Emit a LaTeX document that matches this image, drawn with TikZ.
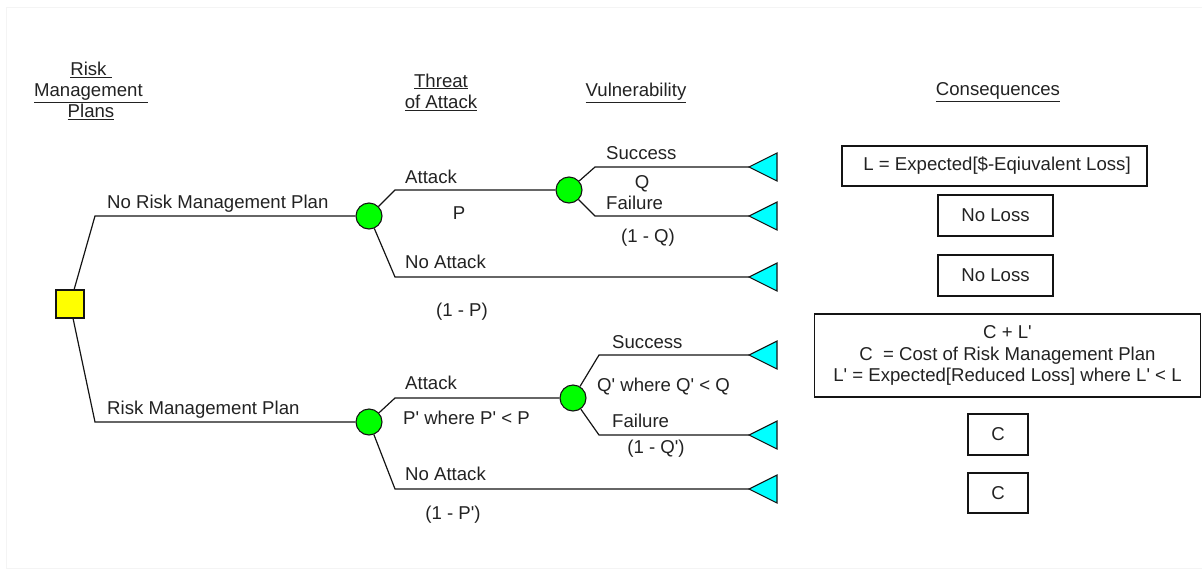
\documentclass[tikz,border=0pt]{standalone}
\usepackage{fontspec}
\setmainfont{Liberation Sans}[Ligatures=TeXOff]
\definecolor{txt}{RGB}{34,34,34}
\definecolor{edge}{RGB}{20,20,20}
\definecolor{chgreen}{RGB}{0,255,0}
\definecolor{decyellow}{RGB}{255,255,0}
\definecolor{termcyan}{RGB}{0,255,255}
\definecolor{frame}{RGB}{244,244,244}
\begin{document}
\begin{tikzpicture}[x=1pt,y=-1pt,
  every node/.style={font=\fontsize{18.6}{21.3}\selectfont, text=txt, inner sep=0pt},
  chance/.style={circle, draw=edge, fill=chgreen, minimum size=26pt, line width=1.1pt},
  decision/.style={rectangle, draw=edge, fill=decyellow, minimum size=28pt, line width=1.1pt},
  conbox/.style={rectangle, draw=edge, line width=1.1pt, align=center},
  branch/.style={draw=edge, line width=1.2pt},
  term/.style={draw=edge, fill=termcyan, line width=1.1pt, line join=miter},
  txtlbl/.style={text height=13.3pt, text depth=0pt},
  lbl/.style={txtlbl, anchor=west},
  hdr/.style={align=center}]
\useasboundingbox (0,0) rectangle (1202,571);
\draw[frame, line width=1pt] (1202,7.5) -- (6.5,7.5) -- (6.5,568) -- (1202,568);

% headers
\node[hdr] (h1) at (91,91) {\underline{Risk~}\\\underline{Management~}\\\underline{Plans}};
\node[hdr] (h2) at (441,92) {\underline{Threat}\\\underline{of Attack}};
\node[hdr] (h3) at (636,93) {\underline{Vulnerability}};
\node[hdr] (h4) at (998,92) {\underline{Consequences}};

% nodes
\node[decision] (d) at (70,304) {};
\node[chance] (c1) at (369,216) {};
\node[chance] (c2) at (569,190) {};
\node[chance] (c3) at (369,422) {};
\node[chance] (c4) at (573,398) {};

% terminal triangles
\foreach \n/\y in {t1/167,t2/216,t3/277,t4/355,t5/435,t6/489}{
  \coordinate (\n) at (749,\y);
  \filldraw[term] (\n) -- ++(28,-14) -- ++(0,28) -- cycle;
}

% branches
\draw[branch] (d) -- (95,216) -- (c1);
\draw[branch] (d) -- (95,422) -- (c3);
\draw[branch] (c1) -- (395,190) -- (c2);
\draw[branch] (c1) -- (395,277) -- (t3);
\draw[branch] (c2) -- (595,167) -- (t1);
\draw[branch] (c2) -- (595,216) -- (t2);
\draw[branch] (c3) -- (395,398) -- (c4);
\draw[branch] (c3) -- (395,489) -- (t6);
\draw[branch] (c4) -- (599,355) -- (t4);
\draw[branch] (c4) -- (599,435) -- (t5);

% branch labels
\node[lbl] (l1) at (107,202) {No Risk Management Plan};
\node[lbl] (l2) at (107,408) {Risk Management Plan};
\node[lbl] (l3) at (405,177) {Attack};
\node[txtlbl] (l4) at (459,213) {P};
\node[lbl] (l5) at (405,262) {No Attack};
\node[txtlbl] (l6) at (462,310) {(1 - P)};
\node[lbl] (l7) at (606,153) {Success};
\node[txtlbl] (l8) at (642,182) {Q};
\node[lbl] (l9) at (606,203) {Failure};
\node[txtlbl] (l10) at (648,236) {(1 - Q)};
\node[lbl] (l11) at (405,383) {Attack};
\node[lbl] (l12) at (403,418) {P' where P' < P};
\node[lbl] (l13) at (405,474) {No Attack};
\node[txtlbl] (l14) at (453,513) {(1 - P')};
\node[lbl] (l15) at (612,342) {Success};
\node[lbl] (l16) at (597,385) {Q' where Q' < Q};
\node[lbl] (l17) at (612,421) {Failure};
\node[txtlbl] (l18) at (656,447) {(1 - Q')};

% consequence boxes
\node[conbox, minimum width=305pt, minimum height=40pt] (b1) at (994.5,166) {~L = Expected[\$-Eqiuvalent Loss]};
\node[conbox, minimum width=115pt, minimum height=41pt] (b2) at (995.5,215.5) {No Loss};
\node[conbox, minimum width=115pt, minimum height=41pt] (b3) at (995.5,275.5) {No Loss};
\node[conbox, minimum width=386pt, minimum height=83pt] (b4) at (1007.5,355.5) {C + L'\\C ~= Cost of Risk Management Plan\\L' = Expected[Reduced Loss] where L' < L};
\node[conbox, minimum width=60pt, minimum height=41pt] (b5) at (998,434.5) {C};
\node[conbox, minimum width=60pt, minimum height=40pt] (b6) at (998,493) {C};
\end{tikzpicture}
\end{document}
